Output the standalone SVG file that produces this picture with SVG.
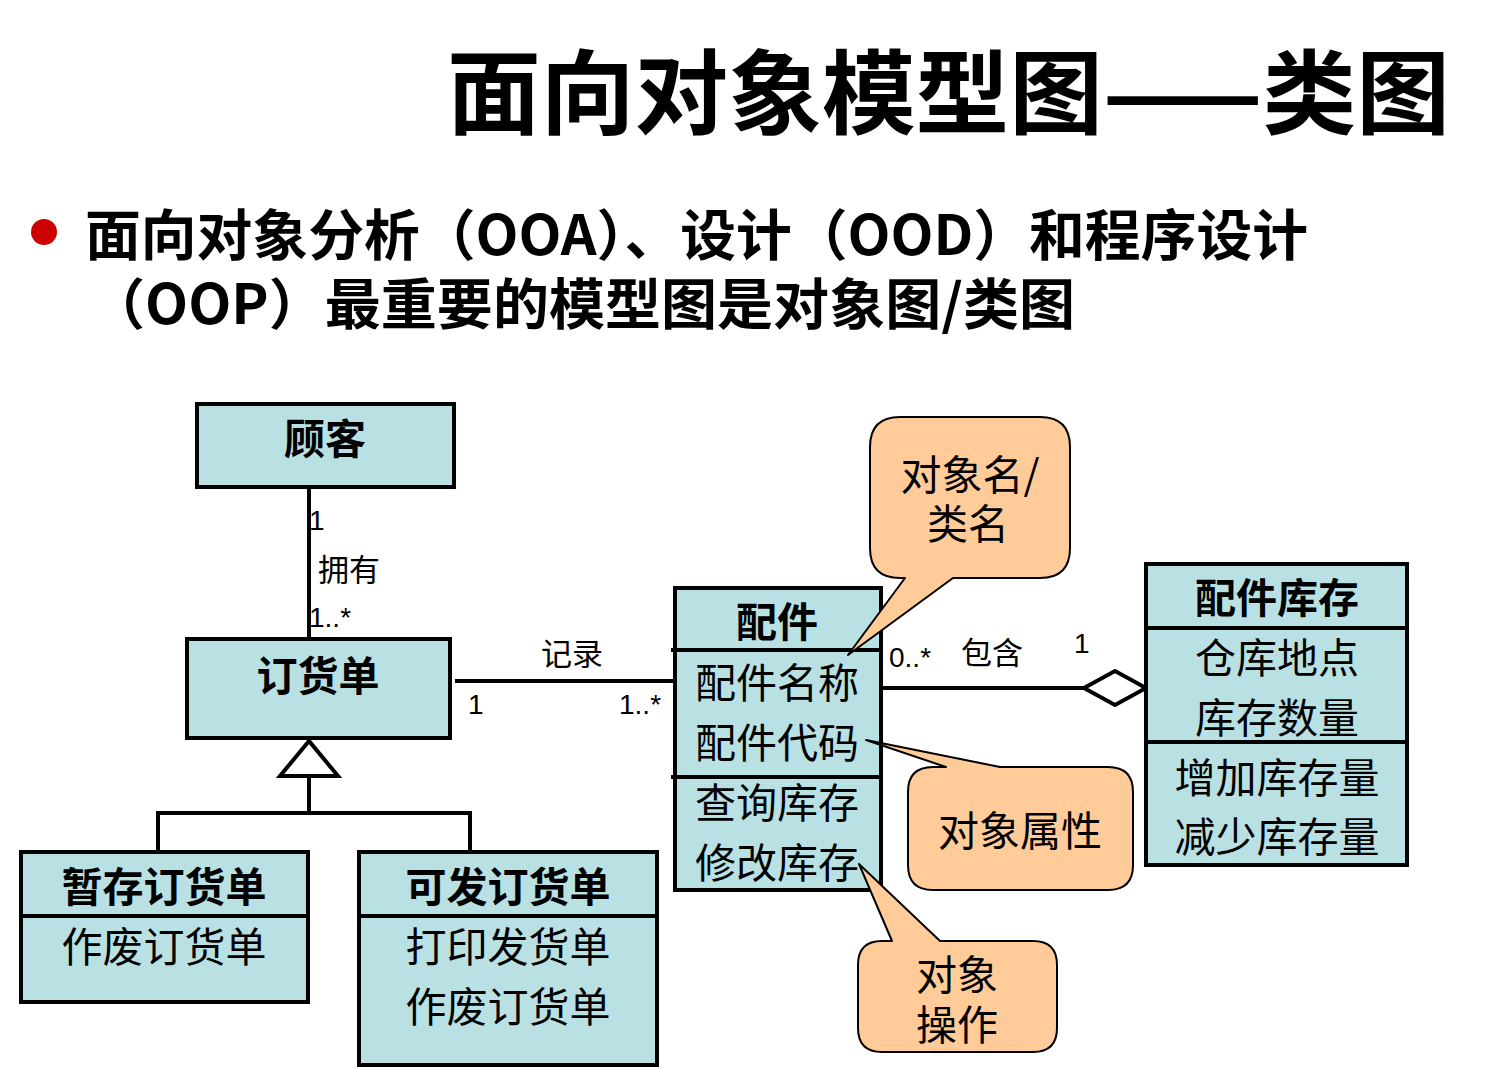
<svg xmlns="http://www.w3.org/2000/svg" width="1510" height="1070" viewBox="0 0 1510 1070">
<style>
.box{fill:#B9E0E3;stroke:#000;stroke-width:4}
.div{stroke:#000;stroke-width:4}
.call{fill:#FFCC99;stroke:#000;stroke-width:2;stroke-linejoin:round}
.ln{stroke:#000;stroke-width:4;fill:none}
.h{font-family:"Noto Sans CJK SC","Noto Sans",sans-serif;font-weight:bold;font-size:41px;text-anchor:middle;dominant-baseline:central;fill:#000}
.t{font-family:"Noto Sans CJK SC","Noto Sans",sans-serif;font-size:41px;text-anchor:middle;dominant-baseline:central;fill:#000}
.lb{font-family:"Noto Sans CJK SC","Liberation Sans",sans-serif;font-size:31px;dominant-baseline:central;fill:#000}
.n{font-family:"Liberation Sans",Arial,sans-serif;font-size:28px;fill:#000}
</style>
<rect width="1510" height="1070" fill="#fff"/>
<text x="447" y="86" font-family="Noto Sans CJK SC,sans-serif" font-weight="bold" font-size="92" dominant-baseline="central" textLength="1003" lengthAdjust="spacingAndGlyphs">面向对象模型图——类图</text>
<circle cx="44" cy="232" r="13" fill="#CC0000"/>
<text x="85" y="231" font-family="Noto Sans CJK SC,sans-serif" font-weight="bold" font-size="55" dominant-baseline="central" textLength="1223" lengthAdjust="spacingAndGlyphs">面向对象分析（OOA）、设计（OOD）和程序设计</text>
<text x="89" y="300" font-family="Noto Sans CJK SC,sans-serif" font-weight="bold" font-size="55" dominant-baseline="central" textLength="986" lengthAdjust="spacingAndGlyphs">（OOP）最重要的模型图是对象图/类图</text>

<g id="connectors">
<line class="ln" x1="309" y1="489" x2="309" y2="638"/>
<line class="ln" x1="455" y1="681" x2="676" y2="681"/>
<line class="ln" x1="883" y1="688" x2="1084" y2="688"/>
<polygon points="1084,688 1115,671 1146,688 1115,705" fill="#fff" stroke="#000" stroke-width="4"/>
<polygon points="309,741 280,776 338,776" fill="#fff" stroke="#000" stroke-width="4"/>
<polyline class="ln" points="309,776 309,815"/>
<polyline class="ln" points="158,851 158,813 470,813 470,851"/>
<text class="n" x="309" y="530">1</text>
<text class="lb" x="318" y="567">拥有</text>
<text class="n" x="309" y="627">1..*</text>
<text class="lb" x="541" y="651">记录</text>
<text class="n" x="468" y="714">1</text>
<text class="n" x="619" y="714">1..*</text>
<text class="n" x="889" y="667">0..*</text>
<text class="lb" x="961" y="650">包含</text>
<text class="n" x="1074" y="653">1</text>
</g>

<g id="customer">
<rect class="box" x="197" y="404" width="257" height="83"/>
<text class="h" x="325" y="436">顾客</text>
</g>

<g id="order">
<rect class="box" x="187" y="639" width="263" height="99"/>
<text class="h" x="318" y="673">订货单</text>
</g>

<g id="part">
<rect class="box" x="675" y="588" width="206" height="302"/>
<line class="div" x1="671" y1="650" x2="881" y2="650"/>
<line class="div" x1="671" y1="777" x2="881" y2="777"/>
<text class="h" x="777" y="619">配件</text>
<text class="t" x="777" y="680">配件名称</text>
<text class="t" x="777" y="740">配件代码</text>
<text class="t" x="777" y="800">查询库存</text>
<text class="t" x="777" y="860">修改库存</text>
</g>

<g id="stock">
<rect class="box" x="1146" y="564" width="261" height="301"/>
<line class="div" x1="1146" y1="628" x2="1407" y2="628"/>
<line class="div" x1="1146" y1="742" x2="1407" y2="742"/>
<text class="h" x="1277" y="595">配件库存</text>
<text class="t" x="1277" y="655">仓库地点</text>
<text class="t" x="1277" y="715">库存数量</text>
<text class="t" x="1277" y="775">增加库存量</text>
<text class="t" x="1277" y="834">减少库存量</text>
</g>

<g id="temp-order">
<rect class="box" x="21" y="852" width="287" height="150"/>
<line class="div" x1="21" y1="916" x2="308" y2="916"/>
<text class="h" x="164" y="884">暂存订货单</text>
<text class="t" x="164" y="944">作废订货单</text>
</g>

<g id="ship-order">
<rect class="box" x="359" y="852" width="298" height="213"/>
<line class="div" x1="359" y1="916" x2="657" y2="916"/>
<text class="h" x="508" y="884">可发订货单</text>
<text class="t" x="508" y="944">打印发货单</text>
<text class="t" x="508" y="1004">作废订货单</text>
</g>

<g id="callout-name">
<path class="call" d="M900,417 H1040 Q1070,417 1070,447 V548 Q1070,578 1040,578 H953 L848,655 L905,578 H900 Q870,578 870,548 V447 Q870,417 900,417 Z"/>
<text class="t" x="970" y="472">对象名/</text>
<text class="t" x="968" y="521">类名</text>
</g>

<g id="callout-attr">
<path class="call" d="M933,767 H946 L866,740 L1000,767 H1108 Q1133,767 1133,792 V865 Q1133,890 1108,890 H933 Q908,890 908,865 V792 Q908,767 933,767 Z"/>
<text class="t" x="1020" y="828">对象属性</text>
</g>

<g id="callout-op">
<path class="call" d="M882,941 H892 L859,864 L940,941 H1033 Q1057,941 1057,965 V1028 Q1057,1052 1033,1052 H882 Q858,1052 858,1028 V965 Q858,941 882,941 Z"/>
<text class="t" x="957" y="972">对象</text>
<text class="t" x="957" y="1022">操作</text>
</g>
</svg>
